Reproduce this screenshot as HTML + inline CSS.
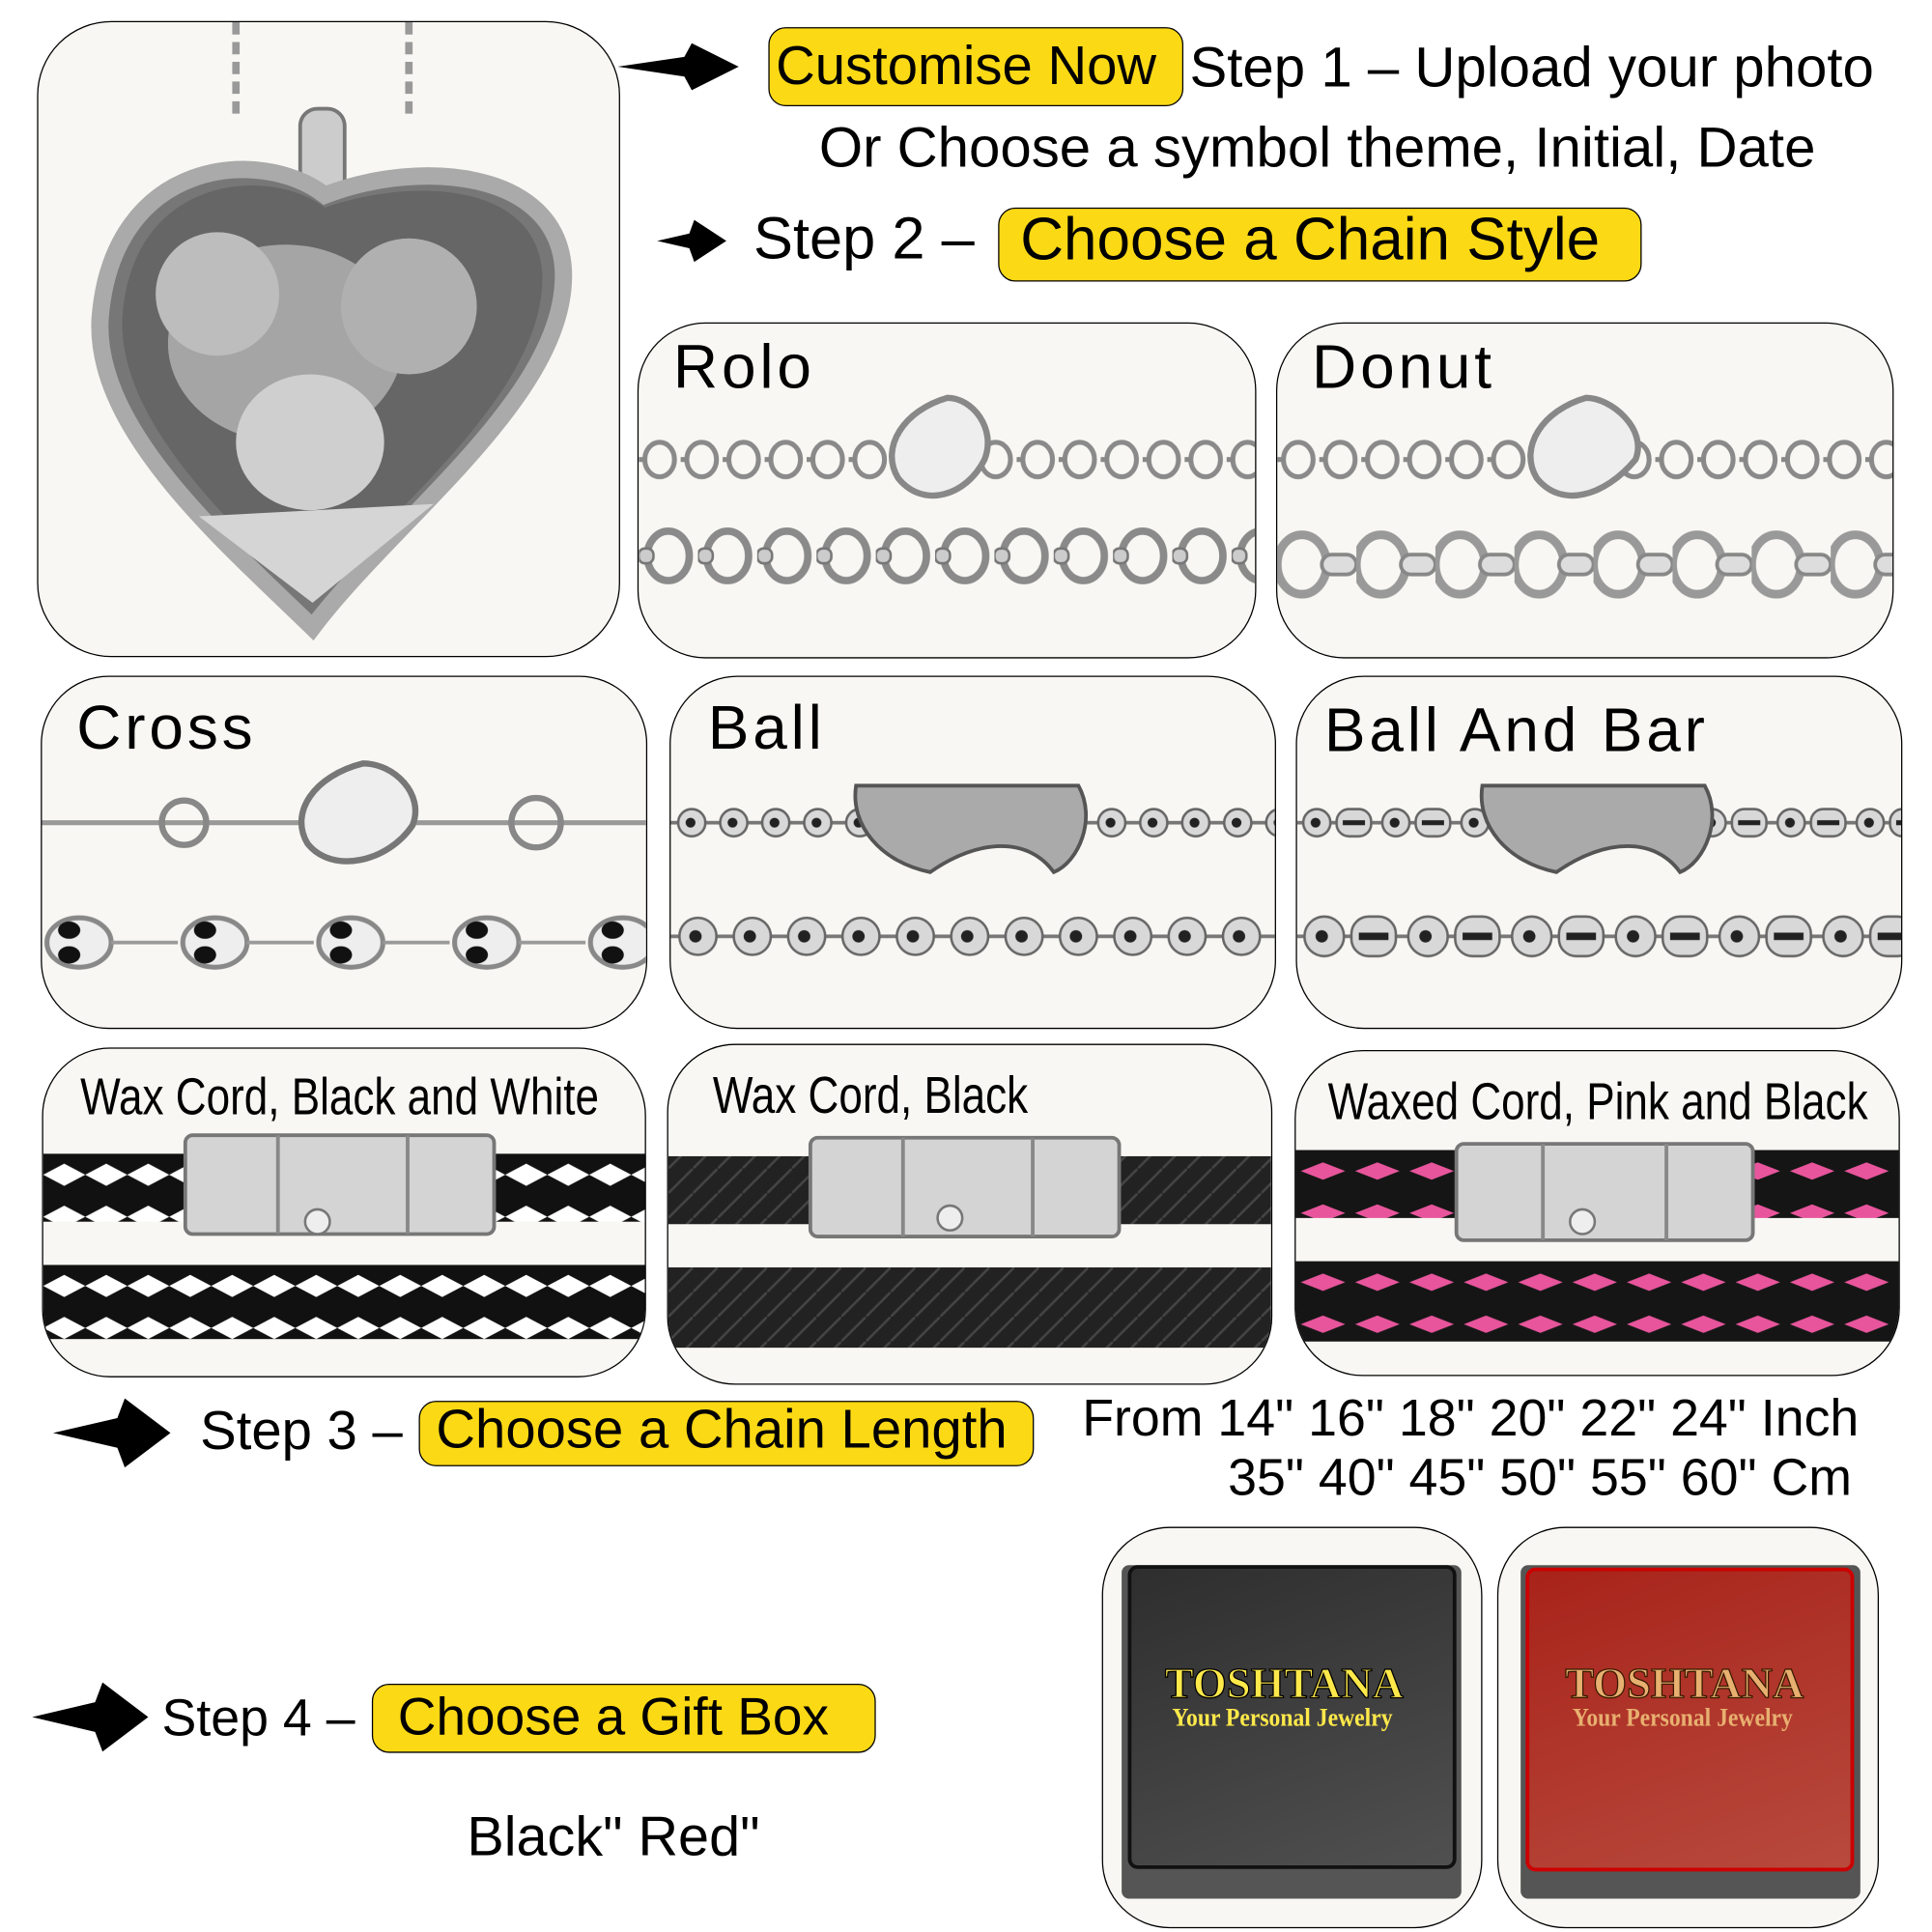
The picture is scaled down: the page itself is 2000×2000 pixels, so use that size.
<!DOCTYPE html>
<html><head><meta charset="utf-8"><style>
html,body{margin:0;padding:0;background:#fff;width:2000px;height:2000px;overflow:hidden}
#w{position:absolute;left:0;top:0;width:1564px;height:1564px;transform:scale(1.27877);transform-origin:0 0;font-family:"Liberation Sans",sans-serif;color:#000}
.a{position:absolute}
.box{position:absolute;border:1.5px solid #000;border-radius:55px;background:#f8f7f3;overflow:hidden}
.y{position:absolute;background:#fcd915;border:1.5px solid #000;border-radius:14px}
.t{position:absolute;white-space:nowrap;line-height:1}
.ttl{position:absolute;white-space:nowrap;font-size:50px;letter-spacing:3px;line-height:1}
.cond{position:absolute;white-space:nowrap;font-size:42px;line-height:1;transform:scaleX(.82);transform-origin:0 0}
svg{position:absolute;left:0;top:0}
</style></head><body><div id="w">
<svg width="0" height="0" style="position:absolute">
<defs>
<pattern id="rolo" width="48" height="60" patternUnits="userSpaceOnUse"><ellipse cx="24" cy="30" rx="17" ry="20" fill="none" stroke="#8a8a8a" stroke-width="6"/><rect x="0" y="24" width="12" height="12" rx="5" fill="#ccc" stroke="#777" stroke-width="2"/></pattern>
<pattern id="rolos" width="34" height="44" patternUnits="userSpaceOnUse"><ellipse cx="17" cy="22" rx="12" ry="14" fill="none" stroke="#8a8a8a" stroke-width="4"/><line x1="0" y1="22" x2="6" y2="22" stroke="#888" stroke-width="4"/></pattern>
<pattern id="donut" width="64" height="70" patternUnits="userSpaceOnUse"><ellipse cx="20" cy="35" rx="20" ry="24" fill="none" stroke="#999" stroke-width="7"/><rect x="36" y="27" width="28" height="16" rx="8" fill="#ddd" stroke="#888" stroke-width="3"/></pattern>
<pattern id="ball" width="44" height="60" patternUnits="userSpaceOnUse"><line x1="0" y1="30" x2="44" y2="30" stroke="#777" stroke-width="3"/><circle cx="22" cy="30" r="15" fill="#d8d8d8" stroke="#666" stroke-width="2"/><circle cx="20" cy="30" r="5" fill="#222"/></pattern>
<pattern id="balls" width="34" height="40" patternUnits="userSpaceOnUse"><line x1="0" y1="20" x2="34" y2="20" stroke="#777" stroke-width="3"/><circle cx="17" cy="20" r="11" fill="#d8d8d8" stroke="#666" stroke-width="2"/><circle cx="16" cy="20" r="4" fill="#222"/></pattern>
<pattern id="ballb" width="84" height="60" patternUnits="userSpaceOnUse"><line x1="0" y1="30" x2="84" y2="30" stroke="#777" stroke-width="3"/><circle cx="22" cy="30" r="16" fill="#d8d8d8" stroke="#666" stroke-width="2"/><circle cx="20" cy="30" r="5" fill="#222"/><rect x="44" y="14" width="36" height="32" rx="14" fill="#d8d8d8" stroke="#666" stroke-width="2"/><rect x="50" y="27" width="24" height="6" fill="#222"/></pattern>
<pattern id="ballbs" width="64" height="40" patternUnits="userSpaceOnUse"><line x1="0" y1="20" x2="64" y2="20" stroke="#777" stroke-width="3"/><circle cx="16" cy="20" r="11" fill="#d8d8d8" stroke="#666" stroke-width="2"/><circle cx="15" cy="20" r="4" fill="#222"/><rect x="32" y="9" width="28" height="22" rx="10" fill="#d8d8d8" stroke="#666" stroke-width="2"/><rect x="37" y="18" width="18" height="4" fill="#222"/></pattern>
<pattern id="cross" width="110" height="60" patternUnits="userSpaceOnUse"><ellipse cx="30" cy="30" rx="26" ry="20" fill="#eee" stroke="#888" stroke-width="4"/><ellipse cx="22" cy="20" rx="9" ry="7" fill="#111"/><ellipse cx="22" cy="40" rx="9" ry="7" fill="#111"/><line x1="56" y1="30" x2="110" y2="30" stroke="#999" stroke-width="3"/></pattern>
<pattern id="bw" width="34" height="34" patternUnits="userSpaceOnUse"><rect width="34" height="34" fill="#111"/><path d="M0 17 L17 8 L34 17 L17 26Z" fill="#fff"/></pattern>
<pattern id="blk" width="20" height="20" patternUnits="userSpaceOnUse"><rect width="20" height="20" fill="#222"/><path d="M0 20 L20 0" stroke="#444" stroke-width="2"/></pattern>
<pattern id="pk" width="44" height="34" patternUnits="userSpaceOnUse"><rect width="44" height="34" fill="#151515"/><path d="M4 17 L22 10 L40 17 L22 24Z" fill="#e8559c"/></pattern>
</defs></svg>

<!-- Pendant -->
<div class="box" style="left:30px;top:17px;width:470px;height:513px;border-radius:60px">
<svg width="470" height="513">
<path d="M160 0 L160 80 M300 0 L300 80" stroke="#999" stroke-width="6" stroke-dasharray="10 6"/>
<rect x="212" y="70" width="36" height="80" rx="14" fill="#ccc" stroke="#777" stroke-width="3"/>
<path d="M232 140 C180 100 60 110 50 240 C45 330 150 420 222 490 C290 400 430 300 425 200 C420 120 310 110 232 140Z" fill="#777" stroke="#aaa" stroke-width="14"/>
<path d="M232 150 C185 115 75 125 68 240 C65 325 160 410 222 470 C285 395 410 300 408 205 C405 130 305 125 232 150Z" fill="#666"/>
<ellipse cx="200" cy="260" rx="95" ry="80" fill="#a5a5a5"/>
<ellipse cx="145" cy="220" rx="50" ry="50" fill="#bdbdbd"/>
<ellipse cx="300" cy="230" rx="55" ry="55" fill="#b0b0b0"/>
<ellipse cx="220" cy="340" rx="60" ry="55" fill="#cfcfcf"/>
<path d="M130 400 L320 390 L222 470Z" fill="#d5d5d5"/>
</svg></div>

<svg width="1564" height="1564" style="pointer-events:none">
<path d="M598 54 L560 35 L554 46 L500 54 L554 62 L560 73Z" fill="#000"/>
<path d="M588 195 L562 178 L558 189 L532 195 L558 201 L562 212Z" fill="#000"/>
<path d="M138 1160 L101 1132 L95 1148 L43 1160 L95 1172 L101 1188Z" fill="#000"/>
<path d="M120 1390 L83 1362 L77 1378 L26 1390 L77 1402 L83 1418Z" fill="#000"/>
</svg>

<div class="y" style="left:622px;top:22px;width:334px;height:62px"></div>
<div class="t" style="left:628px;top:32px;font-size:44px">Customise Now</div>
<div class="t" style="left:963px;top:32px;font-size:45.5px">Step 1 – Upload your photo</div>
<div class="t" style="left:663px;top:97px;font-size:45.5px">Or Choose a symbol theme, Initial, Date</div>
<div class="t" style="left:610px;top:170px;font-size:48px">Step 2 –</div>
<div class="y" style="left:808px;top:168px;width:519px;height:58px"></div>
<div class="t" style="left:826px;top:170px;font-size:48.5px">Choose a Chain Style</div>

<!-- Row 1 -->
<div class="box" style="left:516px;top:261px;width:499px;height:270px">
<div class="ttl" style="left:28px;top:10px">Rolo</div>
<svg width="499" height="270"><g transform="translate(0,88)"><rect x="0" y="0" width="499" height="44" fill="url(#rolos)"/></g><g transform="translate(0,158)"><rect x="0" y="0" width="499" height="60" fill="url(#rolo)"/></g>
<path d="M250 60 C215 70 195 100 210 125 C230 150 265 140 280 110 C290 85 270 60 250 60Z" fill="#eee" stroke="#888" stroke-width="5"/></svg></div>
<div class="box" style="left:1033px;top:261px;width:498px;height:270px">
<div class="ttl" style="left:28px;top:10px">Donut</div>
<svg width="498" height="270"><g transform="translate(0,88)"><rect x="0" y="0" width="498" height="44" fill="url(#rolos)"/></g><g transform="translate(0,160)"><rect x="0" y="0" width="498" height="70" fill="url(#donut)"/></g>
<path d="M250 60 C215 70 195 100 210 125 C230 150 265 140 290 110 C300 85 270 60 250 60Z" fill="#eee" stroke="#888" stroke-width="5"/></svg></div>

<!-- Row 2 -->
<div class="box" style="left:33px;top:547px;width:489px;height:284px">
<div class="ttl" style="left:28px;top:16px">Cross</div>
<svg width="489" height="284"><line x1="0" y1="118" x2="489" y2="118" stroke="#999" stroke-width="4"/><circle cx="115" cy="118" r="18" fill="none" stroke="#888" stroke-width="5"/><circle cx="400" cy="118" r="20" fill="none" stroke="#888" stroke-width="5"/>
<path d="M260 70 C220 80 200 110 215 135 C235 160 280 150 300 120 C310 95 285 70 260 70Z" fill="#eee" stroke="#777" stroke-width="5"/>
<g transform="translate(0,185)"><rect x="0" y="0" width="489" height="60" fill="url(#cross)"/></g></svg></div>
<div class="box" style="left:542px;top:547px;width:489px;height:284px">
<div class="ttl" style="left:30px;top:16px">Ball</div>
<svg width="489" height="284"><g transform="translate(0,98)"><rect x="0" y="0" width="489" height="40" fill="url(#balls)"/></g><path d="M150 88 L330 88 C345 115 330 150 310 158 C290 130 250 130 210 158 C170 150 145 120 150 88Z" fill="#aaa" stroke="#555" stroke-width="3"/>
<g transform="translate(0,180)"><rect x="0" y="0" width="489" height="60" fill="url(#ball)"/></g></svg></div>
<div class="box" style="left:1049px;top:547px;width:489px;height:284px">
<div class="ttl" style="left:22px;top:18px">Ball And Bar</div>
<svg width="489" height="284"><g transform="translate(0,98)"><rect x="0" y="0" width="489" height="40" fill="url(#ballbs)"/></g><path d="M150 88 L330 88 C345 115 330 150 310 158 C290 130 250 130 210 158 C170 150 145 120 150 88Z" fill="#aaa" stroke="#555" stroke-width="3"/>
<g transform="translate(0,180)"><rect x="0" y="0" width="489" height="60" fill="url(#ballb)"/></g></svg></div>

<!-- Row 3 -->
<div class="box" style="left:34px;top:848px;width:487px;height:265px">
<div class="cond" style="left:30px;top:18px">Wax Cord, Black and White</div>
<svg width="487" height="265"><g transform="translate(0,85)"><rect x="0" y="0" width="487" height="55" fill="url(#bw)"/></g><g transform="translate(0,175)"><rect x="0" y="0" width="487" height="60" fill="url(#bw)"/></g>
<rect x="115" y="70" width="250" height="80" rx="6" fill="#d4d4d4" stroke="#777" stroke-width="3"/><line x1="190" y1="70" x2="190" y2="150" stroke="#888" stroke-width="3"/><line x1="295" y1="70" x2="295" y2="150" stroke="#888" stroke-width="3"/><circle cx="222" cy="140" r="10" fill="#eee" stroke="#777" stroke-width="2"/></svg></div>
<div class="box" style="left:540px;top:845px;width:488px;height:274px">
<div class="cond" style="left:36px;top:20px">Wax Cord, Black</div>
<svg width="488" height="274"><rect x="0" y="90" width="488" height="55" fill="url(#blk)"/><rect x="0" y="180" width="488" height="65" fill="url(#blk)"/>
<rect x="115" y="75" width="250" height="80" rx="6" fill="#d4d4d4" stroke="#777" stroke-width="3"/><line x1="190" y1="75" x2="190" y2="155" stroke="#888" stroke-width="3"/><line x1="295" y1="75" x2="295" y2="155" stroke="#888" stroke-width="3"/><circle cx="228" cy="140" r="10" fill="#eee" stroke="#777" stroke-width="2"/></svg></div>
<div class="box" style="left:1048px;top:850px;width:488px;height:262px">
<div class="cond" style="left:26px;top:20px">Waxed Cord, Pink and Black</div>
<svg width="488" height="262"><g transform="translate(0,80)"><rect x="0" y="0" width="488" height="55" fill="url(#pk)"/></g><g transform="translate(0,170)"><rect x="0" y="0" width="488" height="65" fill="url(#pk)"/></g>
<rect x="130" y="75" width="240" height="78" rx="6" fill="#d4d4d4" stroke="#777" stroke-width="3"/><line x1="200" y1="75" x2="200" y2="153" stroke="#888" stroke-width="3"/><line x1="300" y1="75" x2="300" y2="153" stroke="#888" stroke-width="3"/><circle cx="232" cy="138" r="10" fill="#eee" stroke="#777" stroke-width="2"/></svg></div>

<!-- Step 3 -->
<div class="t" style="left:162px;top:1137px;font-size:44px">Step 3 –</div>
<div class="y" style="left:339px;top:1134px;width:496px;height:51px"></div>
<div class="t" style="left:353px;top:1136px;font-size:44px">Choose a Chain Length</div>
<div class="t" style="left:876px;top:1127px;font-size:42px">From 14" 16" 18" 20" 22" 24" Inch</div>
<div class="t" style="left:994px;top:1175px;font-size:42px">35" 40" 45" 50" 55" 60" Cm</div>

<!-- Step 4 -->
<div class="t" style="left:131px;top:1370px;font-size:42px">Step 4 –</div>
<div class="y" style="left:301px;top:1363px;width:406px;height:54px"></div>
<div class="t" style="left:322px;top:1369px;font-size:43px">Choose a Gift Box</div>
<div class="t" style="left:378px;top:1464px;font-size:45px">Black" Red"</div>

<!-- Gift boxes -->
<div class="box" style="left:892px;top:1236px;width:306px;height:323px">
<div class="a" style="left:15px;top:30px;width:275px;height:270px;background:#555;border-radius:6px"></div>
<div class="a" style="left:20px;top:30px;width:260px;height:240px;background:linear-gradient(160deg,#2e2e2e,#505050);border-radius:8px;border:3px solid #111"></div>
<div class="t" style="left:50px;top:108px;font-size:35px;font-weight:bold;font-family:'Liberation Serif',serif;color:#ffe94a;-webkit-text-stroke:1px #000">TOSHTANA</div>
<div class="t" style="left:56px;top:143px;font-size:21px;font-weight:bold;font-family:'Liberation Serif',serif;color:#ffe94a;transform:scaleX(.88);transform-origin:0 0">Your Personal Jewelry</div>
</div>
<div class="box" style="left:1212px;top:1236px;width:307px;height:323px">
<div class="a" style="left:18px;top:30px;width:275px;height:270px;background:#555;border-radius:6px"></div>
<div class="a" style="left:22px;top:32px;width:260px;height:240px;background:linear-gradient(160deg,#a8231a,#b84a3d);border-radius:8px;border:3px solid #c00"></div>
<div class="t" style="left:54px;top:108px;font-size:35px;font-weight:bold;font-family:'Liberation Serif',serif;color:#e8b070;-webkit-text-stroke:1px #3a1a00">TOSHTANA</div>
<div class="t" style="left:60px;top:143px;font-size:21px;font-weight:bold;font-family:'Liberation Serif',serif;color:#e8b070;transform:scaleX(.88);transform-origin:0 0">Your Personal Jewelry</div>
</div>
</div></body></html>
